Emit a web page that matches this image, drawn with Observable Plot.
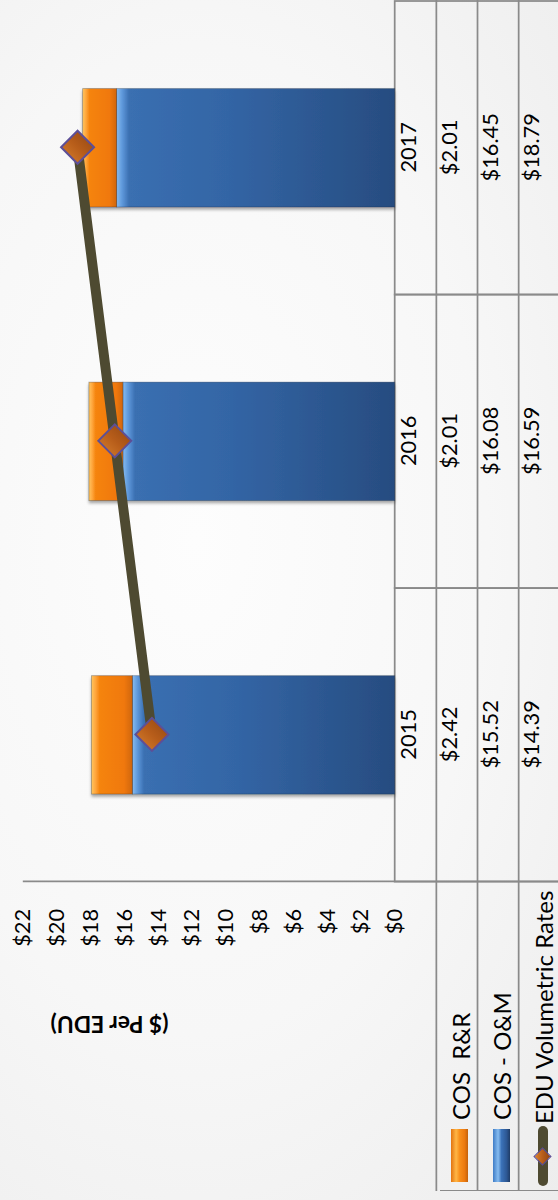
<!DOCTYPE html>
<html><head><meta charset="utf-8">
<script src="https://cdn.jsdelivr.net/npm/d3@7"></script>
<script src="https://cdn.jsdelivr.net/npm/@observablehq/plot@0.6"></script>
<style>
html,body{margin:0;padding:0;}
body{width:558px;height:1200px;overflow:hidden;position:relative;background:radial-gradient(ellipse 95% 75% at 35% 45%, #fdfdfd 0%, #f7f7f7 55%, #ededed 100%);font-family:Lato,"Open Sans",sans-serif;}
#chart{position:absolute;left:0;top:0;width:1200px;height:558px;overflow:hidden;transform-origin:0 0;transform:translate(0px,1200px) rotate(-90deg);}
#legend{position:absolute;left:9px;top:439.5px;width:311px;height:125px;border-left:1.75px solid #8a8a8a;}
.row{position:absolute;left:0;width:311px;height:41.5px;}
.sw{position:absolute;left:8px;top:11.5px;width:53px;height:17px;}
.lbl{position:absolute;left:70px;top:0;height:41.5px;line-height:41.5px;font-size:24px;white-space:pre;color:#000;}
</style></head>
<body>
<div id="chart"></div>
<script>
const years = ["2015", "2016", "2017"];
const cosRR = [2.42, 2.01, 2.01];
const cosOM = [15.52, 16.08, 16.45];
const eduRates = [14.39, 16.59, 18.79];
const seriesNames = ["COS  R&R", "COS - O&M", "EDU Volumetric Rates"];
const yTicks = [0, 2, 4, 6, 8, 10, 12, 14, 16, 18, 20, 22];
const axisTitle = "($ Per EDU)";

const fmt = v => "$" + v.toFixed(2);
const stackData = [
  ...years.map((yr, i) => ({year: yr, series: seriesNames[1], value: cosOM[i]})),
  ...years.map((yr, i) => ({year: yr, series: seriesNames[0], value: cosRR[i]}))
];
const lineData = years.map((yr, i) => ({year: yr, series: seriesNames[2], value: eduRates[i]}));
const rows = [cosRR, cosOM, eduRates];

const grid = "#8a8a8a";
const font = "Lato, 'Open Sans', sans-serif";

const plot = Plot.plot({
  width: 1210, height: 558,
  marginLeft: 320, marginRight: 0, marginTop: 23, marginBottom: 160,
  x: {type: "band", domain: years, padding: 0, axis: null},
  y: {domain: [0, 22], axis: null},
  color: {type: "ordinal", domain: seriesNames, range: ["url(#gOrange)", "url(#gBlue)", "url(#gDia)"]},
  style: {background: "transparent", fontFamily: font, fontSize: "22px", color: "#000", overflow: "visible"},
  marks: [
    Plot.barY(years, {x: d => d, y1: 0, y2: 0, insetBottom: -170, fill: "none", stroke: grid, strokeWidth: 1.75}),
    ...[41.5, 83, 124.5].map(dy => Plot.ruleY([0], {dy, insetLeft: -311, stroke: grid, strokeWidth: 1.75})),
    Plot.ruleX([years[0]], {x: d => d, dx: -148.33, insetBottom: -170, stroke: grid, strokeWidth: 1.75}),
    Plot.axisY(yTicks, {anchor: "left", tickSize: 0, tickPadding: 27, tickFormat: d => "$" + d, fontSize: 22, label: null}),
    Plot.text([axisTitle], {frameAnchor: "top-left", dx: -142, dy: 87, rotate: -90, textAnchor: "middle", lineAnchor: "middle", fontWeight: "bold", fontSize: 23}),
    Plot.barY(stackData, {x: "year", y: "value", fill: "series", insetLeft: 88.3, insetRight: 88.3}),
    Plot.line(lineData, {x: "year", y: "value", stroke: "#4e4a31", strokeWidth: 10}),
    Plot.dot(lineData, {x: "year", y: "value", symbol: "diamond2", r: 15, fill: "series", stroke: "#5d4f97", strokeWidth: 2}),
    Plot.text(years, {x: d => d, frameAnchor: "bottom", dy: 21, fontSize: 22}),
    ...rows.map((vals, r) => Plot.text(vals.map((v, i) => ({year: years[i], v})), {x: "year", text: d => fmt(d.v), frameAnchor: "bottom", dy: 62 + 41.5 * r, fontSize: 22}))
  ]
});

const svg = d3.select(plot);
const defs = svg.insert("defs", ":first-child");
function grad(id, stops, x2 = 0, y2 = 1) {
  const g = defs.append("linearGradient").attr("id", id).attr("x1", 0).attr("y1", 0).attr("x2", x2).attr("y2", y2);
  stops.forEach(([o, c]) => g.append("stop").attr("offset", o).attr("stop-color", c));
}
grad("gOrange", [[0, "#ffc560"], [0.1, "#ffa63c"], [0.2, "#f5840f"], [0.8, "#f0780e"], [1, "#d0660c"]]);
grad("gBlue", [[0, "#86bbf0"], [0.02, "#5e98db"], [0.045, "#3a6fb1"], [0.4, "#3365a5"], [1, "#274c80"]]);
grad("gDia", [[0, "#d98330"], [0.5, "#b75d1a"], [1, "#8f4512"]], 1, 1);
const shadow = defs.append("filter").attr("id", "barShadow").attr("x", "-10%").attr("y", "-10%").attr("width", "120%").attr("height", "120%");
shadow.append("feDropShadow").attr("dx", -2.5).attr("dy", 0).attr("stdDeviation", 1.6).attr("flood-color", "#000").attr("flood-opacity", 0.35);
const barGroups = svg.selectAll('g[aria-label="bar"]').nodes();
d3.select(barGroups[barGroups.length - 1]).attr("filter", "url(#barShadow)")
  .selectAll("rect").attr("stroke", "rgba(10,25,45,0.35)").attr("stroke-width", 0.8);

const chart = document.getElementById("chart");
chart.appendChild(plot);

// legend (row headers of the data table)
const legend = document.createElement("div");
legend.id = "legend";
const swStyles = [
  "background:linear-gradient(to bottom,#e27410 0%,#ffb646 30%,#f8901c 50%,#ec7a10 80%,#c4620c 100%);",
  "background:linear-gradient(to bottom,#3f7cc6 0%,#86bcf0 30%,#3b72b8 50%,#2d5894 80%,#1f3c66 100%);"
];
seriesNames.forEach((name, i) => {
  const row = document.createElement("div");
  row.className = "row";
  row.style.top = (41.5 * i) + "px";
  if (i < 2) {
    const sw = document.createElement("div");
    sw.className = "sw";
    sw.setAttribute("style", swStyles[i]);
    row.appendChild(sw);
  } else {
    const ln = document.createElement("div");
    ln.setAttribute("style", "position:absolute;left:4px;top:15.5px;width:60px;height:10px;border-radius:5px;background:#4e4a31;");
    row.appendChild(ln);
    const dm = document.createElement("div");
    dm.setAttribute("style", "position:absolute;left:27px;top:13.5px;width:13px;height:13px;transform:rotate(45deg);background:linear-gradient(135deg,#d98330,#b75d1a 50%,#8f4512);border:1.5px solid #5d4f97;box-sizing:border-box;");
    row.appendChild(dm);
  }
  const lb = document.createElement("div");
  lb.className = "lbl";
  lb.textContent = name;
  if (i === 2) lb.style.left = "66px";
  row.appendChild(lb);
  legend.appendChild(row);
});
chart.appendChild(legend);
</script>
</body></html>
